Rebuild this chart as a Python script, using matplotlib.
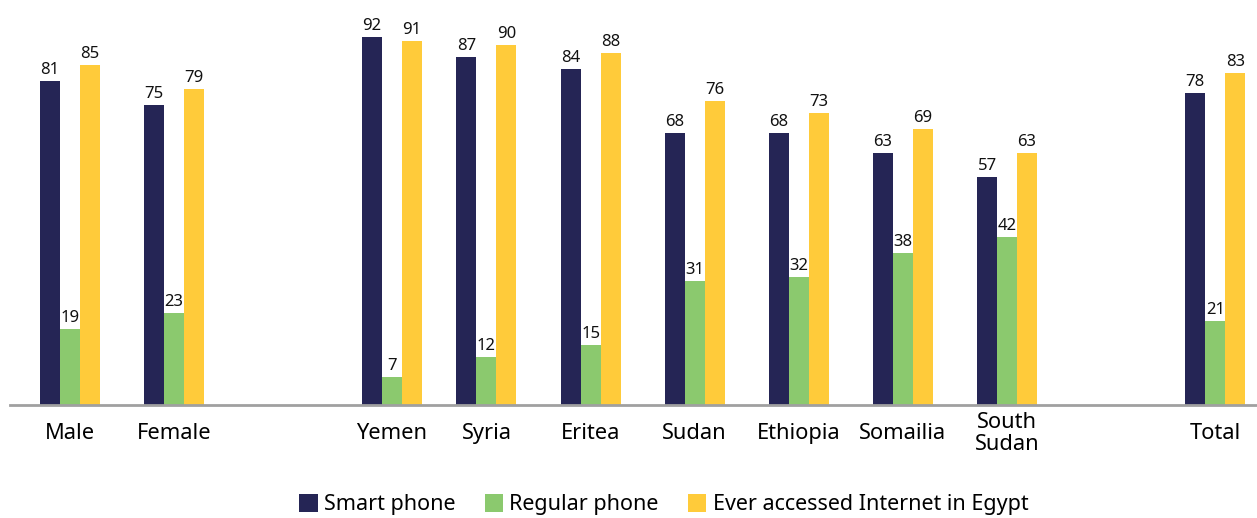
import numpy as np
import matplotlib.pyplot as plt
from matplotlib.patches import Patch

plt.rcParams['font.family'] = ['Noto Sans', 'DejaVu Sans']

# Data
categories = ["Male", "Female", "Yemen", "Syria", "Eritea", "Sudan",
              "Ethiopia", "Somailia", "South\nSudan", "Total"]
slots = [0, 1, 3.09, 4, 5, 6, 7, 8, 9, 11]  # empty slots separate the groups
smart_phone = [81, 75, 92, 87, 84, 68, 68, 63, 57, 78]
regular_phone = [19, 23, 7, 12, 15, 31, 32, 38, 42, 21]
ever_internet = [85, 79, 91, 90, 88, 76, 73, 69, 63, 83]

series_names = ["Smart phone", "Regular phone", "Ever accessed Internet in Egypt"]
colors = ["#252555", "#8BC96E", "#FFCB3A"]

fig = plt.figure(figsize=(12.57, 5.18), dpi=100)
ax = fig.add_axes([10 / 1257, 1 - 405 / 518, 1247 / 1257, 405 / 518])

x = np.array(slots, dtype=float)
w = 0.192
for i, (vals, col) in enumerate(zip([smart_phone, regular_phone, ever_internet], colors)):
    bars = ax.bar(x + (i - 1) * w, vals, width=w, color=col, zorder=2)
    for b, v in zip(bars, vals):
        ax.annotate(str(v), (b.get_x() + b.get_width() / 2, v),
                    xytext=(0, 2), textcoords="offset points",
                    ha="center", va="bottom", fontsize=12, color="#111111")

ax.set_xlim(-0.576, 11.40)
ax.set_ylim(0, 101.25)

ax.set_xticks(x)
ax.set_xticklabels(categories, fontsize=15.7, linespacing=1.1)
for lbl in ax.get_xticklabels():
    lbl.set_va("center")
ax.tick_params(axis="x", length=0, pad=20.5)
ax.set_yticks([])

for s in ["top", "right", "left"]:
    ax.spines[s].set_visible(False)
ax.spines["bottom"].set_color("#A0A0A0")
ax.spines["bottom"].set_linewidth(2)
ax.spines["bottom"].set_zorder(3)

handles = [Patch(facecolor=c, edgecolor="none") for c in colors]
fig.legend(handles, series_names, loc="center", bbox_to_anchor=(0.528, 0.026),
           ncol=3, frameon=False, fontsize=15.5, handlelength=0.85, handleheight=0.95,
           handletextpad=0.3, columnspacing=1.35)

fig.savefig("out.png", dpi=100)
